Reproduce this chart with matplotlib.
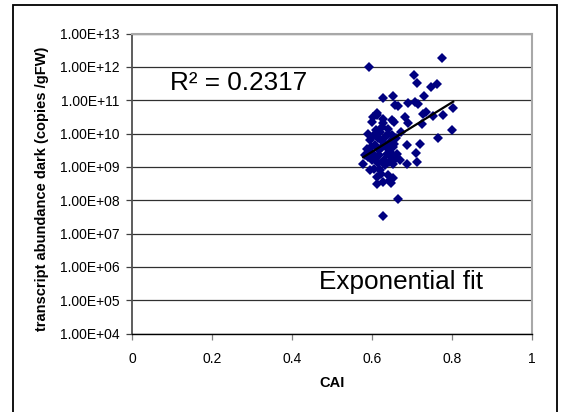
import numpy as np
import matplotlib
matplotlib.use('Agg')
from matplotlib import pyplot as plt
from matplotlib.patches import Rectangle
from matplotlib.ticker import NullLocator

plt.rcParams['font.family'] = ['Liberation Sans', 'DejaVu Sans']

# CAI vs. transcript abundance (copies / gFW)
cai = [0.593, 0.774, 0.705, 0.713, 0.762, 0.747, 0.628, 0.653, 0.658, 0.664,
       0.691, 0.707, 0.716, 0.730, 0.803, 0.612, 0.603, 0.628, 0.649, 0.655,
       0.683, 0.691, 0.735, 0.728, 0.753, 0.778, 0.724, 0.799, 0.628, 0.764,
       0.720, 0.687, 0.710, 0.713, 0.687, 0.662, 0.653, 0.578, 0.595, 0.620,
       0.612, 0.645, 0.612, 0.652, 0.628, 0.666, 0.628, 0.591, 0.595, 0.620,
       0.632, 0.645, 0.607, 0.587, 0.624, 0.653, 0.603, 0.637, 0.600, 0.612,
       0.625, 0.640, 0.650, 0.660, 0.655, 0.615, 0.605, 0.598, 0.590, 0.600,
       0.610, 0.618, 0.630, 0.642, 0.650, 0.660, 0.635, 0.627, 0.617, 0.645,
       0.633, 0.622, 0.605, 0.640, 0.648, 0.615, 0.583, 0.596, 0.670, 0.640,
       0.610, 0.672]
abundance = [1.0e12, 1.8e12, 5.6e11, 3.3e11, 3.0e11, 2.4e11, 1.2e11, 1.3e11, 7.2e10, 6.6e10,
             8.3e10, 8.9e10, 7.9e10, 1.3e11, 5.8e10, 4.2e10, 3.2e10, 2.8e10, 2.6e10, 2.2e10,
             3.2e10, 2.1e10, 4.5e10, 3.8e10, 3.4e10, 3.5e10, 1.9e10, 1.3e10, 2.0e10, 7.1e9,
             5.0e9, 4.5e9, 2.6e9, 1.4e9, 1.2e9, 2.4e9, 1.2e9, 1.2e9, 7.9e8, 7.9e8,
             5.0e8, 4.0e8, 3.0e8, 4.5e8, 3.5e8, 1.05e8, 3.3e7, 1.0e10, 6.3e9, 1.1e10,
             7.9e9, 5.6e9, 4.5e9, 3.5e9, 4.0e9, 4.0e9, 2.5e9, 2.5e9, 2.2e10, 3.5e10,
             1.6e10, 1.0e10, 8.9e9, 7.1e9, 5.0e9, 7.1e9, 8.9e9, 4.0e9, 2.0e9, 1.6e9,
             1.8e9, 2.2e9, 1.6e9, 1.4e9, 2.0e9, 1.8e9, 4.0e9, 5.6e9, 3.2e9, 2.8e9,
             1.1e9, 6.3e8, 8.9e8, 5.6e8, 3.2e8, 1.3e9, 2.2e9, 2.8e9, 1.6e9, 1.4e10,
             1.3e10, 1.1e10]
x_ticks = [0, 0.2, 0.4, 0.6, 0.8, 1]
x_labels = ['0', '0.2', '0.4', '0.6', '0.8', '1']
y_exp = list(range(4, 14))
y_labels = ['1.00E+%02d' % e for e in y_exp]

x = np.array(cai)
y = np.array(abundance)

# exponential trendline (fit of ln y against x), over the data range
b, a = np.polyfit(x, np.log(y), 1)
xf = np.linspace(x.min(), x.max(), 50)
yf = np.exp(a + b * xf)

W, H = 566, 412
fig = plt.figure(figsize=(W / 100, H / 100), dpi=100)

# outer chart frame
fig.patches.append(Rectangle((13 / W, -0.05), 544 / W, 1.05 - 5 / H,
                             transform=fig.transFigure, fill=False,
                             edgecolor='black', linewidth=1.3, clip_on=False))

ax = fig.add_axes([132 / W, 1 - 333.5 / H, 400 / W, 300 / H])
ax.set_yscale('log')
ax.set_xlim(0, 1)
ax.set_ylim(1e4, 1e13)
ax.set_xticks(x_ticks)
ax.set_xticklabels(x_labels)
ax.set_yticks([10.0 ** e for e in y_exp])
ax.set_yticklabels(y_labels)
ax.yaxis.set_minor_locator(NullLocator())
ax.tick_params(axis='y', direction='out', length=4, width=0.9, pad=5,
               labelsize=10, color='#404040')
ax.tick_params(axis='x', direction='out', length=4, width=0.9, pad=9,
               labelsize=10, color='#808080')

ax.yaxis.grid(True, color='#303030', linewidth=0.9)
ax.set_axisbelow(True)
ax.spines['left'].set_color('#505050')
ax.spines['left'].set_linewidth(1.3)
ax.spines['bottom'].set_color('black')
ax.spines['bottom'].set_linewidth(1.0)
ax.spines['top'].set_color('#a8a8a8')
ax.spines['top'].set_linewidth(1.5)
ax.spines['right'].set_color('#a8a8a8')
ax.spines['right'].set_linewidth(1.5)

ax.plot(x, y, linestyle='none', marker='D', markersize=5.5,
        color='#000080', markeredgewidth=0, zorder=3)
ax.plot(xf, yf, color='black', linewidth=1.6, zorder=4)

fig.text(42 / W, 1 - 189 / H, 'transcript abundance dark (copies /gFW)',
         rotation=90, ha='center', va='center', fontsize=10.5, fontweight='bold')
fig.text(332 / W, 1 - 383 / H, 'CAI', ha='center', va='center',
         fontsize=10.5, fontweight='bold')
fig.text(170 / W, 1 - 83 / H, 'R\u00b2 = 0.2317', ha='left', va='center',
         fontsize=18.8)
fig.text(401 / W, 1 - 282 / H, 'Exponential fit', ha='center', va='center',
         fontsize=18.8)

fig.savefig('out.png', dpi=100)
